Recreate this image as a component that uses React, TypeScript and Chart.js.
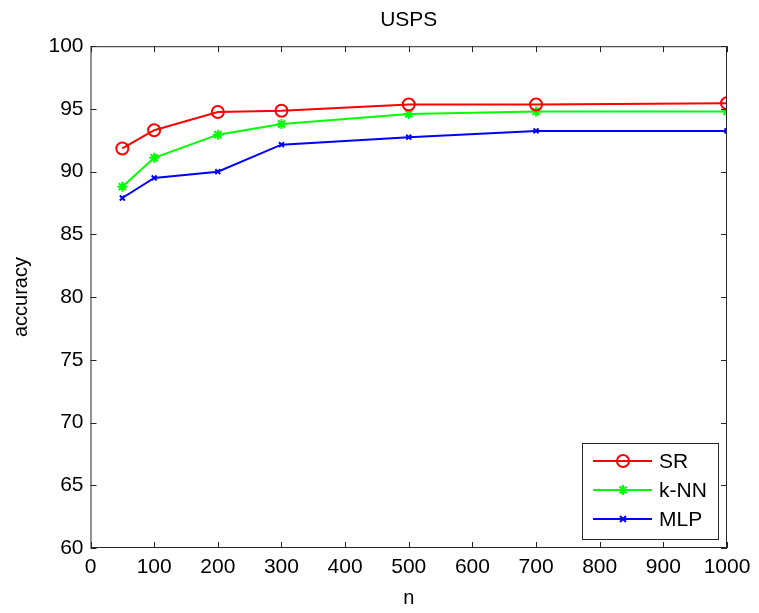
import React, { useEffect, useRef } from "react";
import { Chart, registerables } from "chart.js";

Chart.register(...registerables);

const nValues = [50, 100, 200, 300, 500, 700, 1000];
const srAcc = [91.85, 93.3, 94.75, 94.85, 95.35, 95.35, 95.45];
const knnAcc = [88.8, 91.1, 92.95, 93.8, 94.6, 94.8, 94.8];
const mlpAcc = [87.9, 89.5, 90.0, 92.15, 92.75, 93.25, 93.25];
const seriesNames = ["SR", "k-NN", "MLP"];
const seriesColors = ["#ff0000", "#00ff00", "#0000ff"];
const seriesMarkers = ["circle", "star", "crossRot"];
const seriesRadius = [6, 5, 3.5];

const FONT = "'Liberation Sans', Arial, sans-serif";

function drawMarker(ctx: CanvasRenderingContext2D, style: string, r: number, x: number, y: number) {
  ctx.beginPath();
  if (style === "circle") {
    ctx.arc(x, y, r, 0, Math.PI * 2);
    ctx.stroke();
  } else if (style === "star") {
    for (let k = 0; k < 4; k++) {
      const a = (k * Math.PI) / 4;
      ctx.moveTo(x - Math.cos(a) * r, y - Math.sin(a) * r);
      ctx.lineTo(x + Math.cos(a) * r, y + Math.sin(a) * r);
    }
    ctx.stroke();
  } else {
    const d = r * Math.SQRT1_2 * 1.2;
    ctx.moveTo(x - d, y - d);
    ctx.lineTo(x + d, y + d);
    ctx.moveTo(x - d, y + d);
    ctx.lineTo(x + d, y - d);
    ctx.stroke();
  }
}

const frameAndLegend = {
  id: "frameAndLegend",
  afterDatasetsDraw(chart: any) {
    const { ctx, chartArea, scales } = chart;
    const { left, right, top, bottom } = chartArea;
    ctx.save();
    ctx.strokeStyle = "#262626";
    ctx.lineWidth = 1;
    ctx.strokeRect(left + 0.5, top + 0.5, right - left - 1, bottom - top - 1);
    const tl = 6;
    ctx.beginPath();
    scales.x.ticks.forEach((t: any) => {
      const px = Math.round(scales.x.getPixelForValue(t.value)) + 0.5;
      ctx.moveTo(px, bottom);
      ctx.lineTo(px, bottom - tl);
      ctx.moveTo(px, top);
      ctx.lineTo(px, top + tl);
    });
    scales.y.ticks.forEach((t: any) => {
      const py = Math.round(scales.y.getPixelForValue(t.value)) + 0.5;
      ctx.moveTo(left, py);
      ctx.lineTo(left + tl, py);
      ctx.moveTo(right, py);
      ctx.lineTo(right - tl, py);
    });
    ctx.stroke();

    // legend box
    const bx = 582.5, by = 443.5, bw = 136, bh = 96;
    ctx.fillStyle = "#ffffff";
    ctx.fillRect(bx, by, bw, bh);
    ctx.strokeStyle = "#262626";
    ctx.strokeRect(bx, by, bw, bh);
    const rows = [461, 490, 519];
    chart.data.datasets.forEach((ds: any, i: number) => {
      const y = rows[i];
      ctx.strokeStyle = ds.borderColor;
      ctx.lineWidth = 2;
      ctx.beginPath();
      ctx.moveTo(593, y);
      ctx.lineTo(652, y);
      ctx.stroke();
      ctx.lineWidth = ds.pointBorderWidth;
      drawMarker(ctx, ds.pointStyle, ds.pointRadius, 623, y);
      ctx.fillStyle = "#000000";
      ctx.font = `21px ${FONT}`;
      ctx.textBaseline = "middle";
      ctx.textAlign = "left";
      ctx.fillText(ds.label, 659, y + 1);
    });
    ctx.restore();
  },
};

export default function App() {
  const ref = useRef<HTMLCanvasElement>(null);
  useEffect(() => {
    document.body.style.margin = "0";
    const series = [srAcc, knnAcc, mlpAcc];
    const chart = new Chart(ref.current!, {
      type: "line",
      data: {
        datasets: series.map((vals, i) => ({
          label: seriesNames[i],
          data: nValues.map((n, j) => ({ x: n, y: vals[j] })),
          borderColor: seriesColors[i],
          backgroundColor: seriesColors[i],
          pointBackgroundColor: "rgba(0,0,0,0)",
          pointBorderColor: seriesColors[i],
          pointStyle: seriesMarkers[i] as any,
          pointRadius: seriesRadius[i],
          pointBorderWidth: 2,
          borderWidth: 2,
          tension: 0,
          fill: false,
        })),
      },
      plugins: [frameAndLegend],
      options: {
        responsive: false,
        animation: false,
        layout: { padding: { left: 0, right: 32, top: 0, bottom: 0 } },
        plugins: {
          legend: { display: false },
          tooltip: { enabled: false },
          title: {
            display: true,
            fullSize: false,
            text: "USPS",
            color: "#000000",
            font: { family: FONT, size: 21, weight: "normal" },
            padding: { top: 8, bottom: 13 },
          },
        },
        scales: {
          x: {
            type: "linear",
            min: 0,
            max: 1000,
            ticks: {
              stepSize: 100,
              color: "#000000",
              font: { family: FONT, size: 21 },
              padding: 7,
              maxRotation: 0,
              callback: (v: any) => String(v),
            },
            grid: { display: false, drawTicks: false },
            border: { display: false },
            title: {
              display: true,
              text: "n",
              color: "#000000",
              font: { family: FONT, size: 20 },
              padding: { top: 0, bottom: 3 },
            },
            afterFit: (s: any) => {
              s.height = 65;
            },
          },
          y: {
            type: "linear",
            min: 60,
            max: 100,
            ticks: {
              stepSize: 5,
              color: "#000000",
              font: { family: FONT, size: 21 },
              padding: 7,
              callback: (v: any) => String(v),
            },
            grid: { display: false, drawTicks: false },
            border: { display: false },
            title: {
              display: true,
              text: "accuracy",
              color: "#000000",
              font: { family: FONT, size: 20 },
              padding: { top: 9, bottom: 0 },
            },
            afterFit: (s: any) => {
              s.width = 90.5;
            },
          },
        },
      },
    });
    return () => chart.destroy();
  }, []);
  return (
    <div style={{ position: "absolute", left: 0, top: 0, width: 759, height: 613, background: "#fff" }}>
      <canvas ref={ref} width={759} height={613} />
    </div>
  );
}
